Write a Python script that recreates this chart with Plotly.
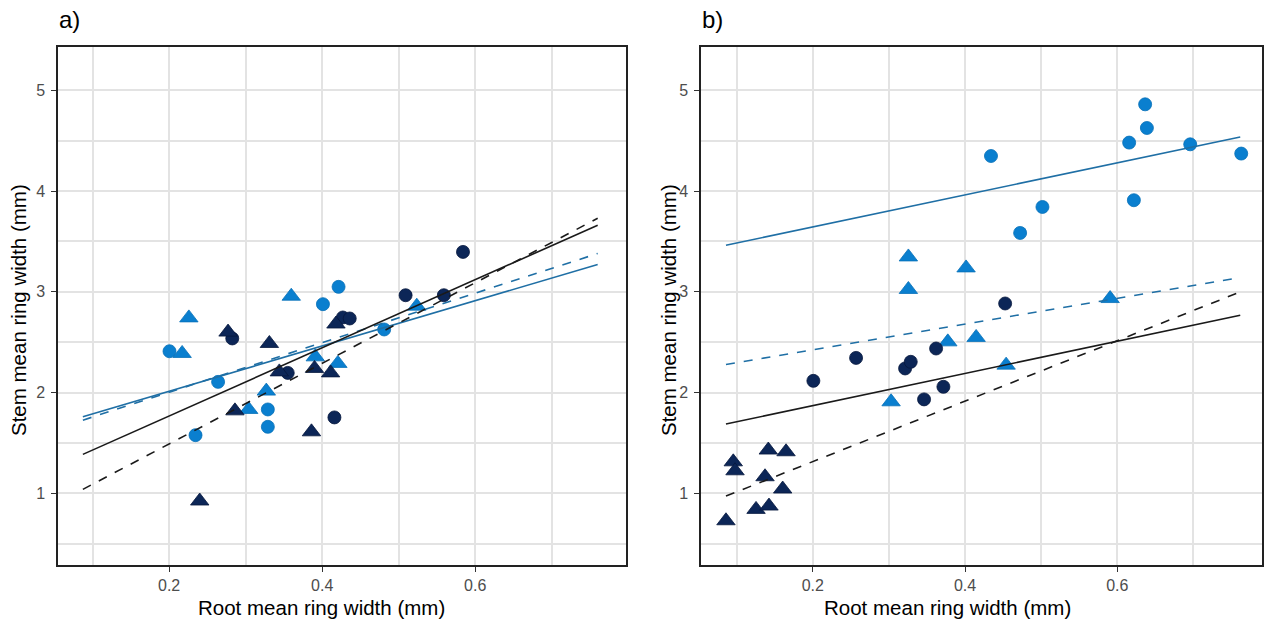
import plotly.graph_objects as go

# ---------------- data: panel a ----------------
a_dark_circle_x = [0.2825, 0.355, 0.427, 0.436, 0.416, 0.509, 0.559, 0.584]
a_dark_circle_y = [2.537, 2.195, 2.745, 2.735, 1.753, 2.966, 2.966, 3.396]
a_dark_tri_x = [0.277, 0.331, 0.390, 0.411, 0.344, 0.418, 0.286, 0.386, 0.240]
a_dark_tri_y = [2.60, 2.487, 2.239, 2.195, 2.205, 2.68, 1.818, 1.61, 0.923]
a_light_circle_x = [0.4214, 0.401, 0.481, 0.2005, 0.264, 0.329, 0.329, 0.2345]
a_light_circle_y = [3.049, 2.877, 2.626, 2.41, 2.106, 1.832, 1.66, 1.577]
a_light_tri_x = [0.3596, 0.2258, 0.217, 0.391, 0.4205, 0.327, 0.304, 0.5236]
a_light_tri_y = [2.956, 2.741, 2.388, 2.354, 2.289, 2.014, 1.832, 2.857]

a_fit_x = [0.0873, 0.760]
a_fit_dark_circle_y = [1.386, 3.661]
a_fit_dark_tri_y = [1.039, 3.73]
a_fit_light_circle_y = [1.759, 3.271]
a_fit_light_tri_y = [1.726, 3.38]

# ---------------- data: panel b ----------------
b_light_circle_x = [0.434, 0.6365, 0.6388, 0.6155, 0.6957, 0.7627, 0.5016, 0.4723, 0.6217]
b_light_circle_y = [4.348, 4.861, 4.626, 4.481, 4.464, 4.372, 3.842, 3.584, 3.909]
b_light_tri_x = [0.3255, 0.4013, 0.3255, 0.5905, 0.4145, 0.3773, 0.4539, 0.3028]
b_light_tri_y = [3.346, 3.237, 3.023, 2.933, 2.547, 2.503, 2.272, 1.908]
b_dark_circle_x = [0.4526, 0.3619, 0.2568, 0.3212, 0.3286, 0.2007, 0.3715, 0.3461]
b_dark_circle_y = [2.884, 2.437, 2.344, 2.239, 2.305, 2.116, 2.057, 1.932]
b_dark_tri_x = [0.0955, 0.0978, 0.1415, 0.1648, 0.1372, 0.1604, 0.1254, 0.1424, 0.0859]
b_dark_tri_y = [1.312, 1.223, 1.429, 1.412, 1.164, 1.042, 0.840, 0.873, 0.727]

b_fit_x = [0.0859, 0.7614]
b_fit_light_circle_y = [3.462, 4.537]
b_fit_light_tri_y = [2.279, 3.142]
b_fit_dark_circle_y = [1.687, 2.768]
b_fit_dark_tri_y = [0.972, 2.999]

x_ticks = [0.2, 0.4, 0.6]
y_ticks = [1, 2, 3, 4, 5]

DARK = "#0c2657"
DARK_EDGE = "#06183d"
LIGHT = "#0a7fcf"
LIGHT_EDGE = "#0670b8"
BLUE_LINE = "#1f6fa5"
BLACK_LINE = "#1a1a1a"
FONT = "Liberation Sans, Arial, sans-serif"

fig = go.Figure()


def pts(x, y, color, edge, symbol, size, xa, ya):
    fig.add_trace(go.Scatter(
        x=x, y=y, mode="markers", xaxis=xa, yaxis=ya, showlegend=False,
        marker=dict(color=color, symbol=symbol, size=size,
                    line=dict(color=edge, width=0.8))))


def fit(x, y, color, dash, xa, ya):
    fig.add_trace(go.Scatter(
        x=x, y=y, mode="lines", xaxis=xa, yaxis=ya, showlegend=False,
        line=dict(color=color, width=1.6, dash=dash)))


# panel a
pts(a_light_circle_x, a_light_circle_y, LIGHT, LIGHT_EDGE, "circle", 13, "x", "y")
pts(a_light_tri_x, a_light_tri_y, LIGHT, LIGHT_EDGE, "triangle-up", 16, "x", "y")
pts(a_dark_circle_x, a_dark_circle_y, DARK, DARK_EDGE, "circle", 13, "x", "y")
pts(a_dark_tri_x, a_dark_tri_y, DARK, DARK_EDGE, "triangle-up", 16, "x", "y")
fit(a_fit_x, a_fit_light_circle_y, BLUE_LINE, "solid", "x", "y")
fit(a_fit_x, a_fit_light_tri_y, BLUE_LINE, "dash", "x", "y")
fit(a_fit_x, a_fit_dark_circle_y, BLACK_LINE, "solid", "x", "y")
fit(a_fit_x, a_fit_dark_tri_y, BLACK_LINE, "dash", "x", "y")

# panel b
pts(b_light_circle_x, b_light_circle_y, LIGHT, LIGHT_EDGE, "circle", 13, "x2", "y2")
pts(b_light_tri_x, b_light_tri_y, LIGHT, LIGHT_EDGE, "triangle-up", 16, "x2", "y2")
pts(b_dark_circle_x, b_dark_circle_y, DARK, DARK_EDGE, "circle", 13, "x2", "y2")
pts(b_dark_tri_x, b_dark_tri_y, DARK, DARK_EDGE, "triangle-up", 16, "x2", "y2")
fit(b_fit_x, b_fit_light_circle_y, BLUE_LINE, "solid", "x2", "y2")
fit(b_fit_x, b_fit_light_tri_y, BLUE_LINE, "dash", "x2", "y2")
fit(b_fit_x, b_fit_dark_circle_y, BLACK_LINE, "solid", "x2", "y2")
fit(b_fit_x, b_fit_dark_tri_y, BLACK_LINE, "dash", "x2", "y2")

W, H = 1264, 628
ydom = [1 - 565 / H, 1 - 47 / H]
GRID = "#e3e3e3"

common_x = dict(
    tickmode="array", tickvals=x_ticks, ticktext=[f"{v:.1f}" for v in x_ticks],
    showgrid=True, gridcolor=GRID, gridwidth=1.6,
    minor=dict(tickmode="array", tickvals=[0.1, 0.3, 0.5, 0.7], showgrid=True,
               gridcolor=GRID, gridwidth=1.6, ticks=""),
    showline=True, linecolor="#222222", linewidth=1.5, mirror=True,
    ticks="outside", ticklen=5, tickcolor="#333333", tickwidth=1.2,
    tickfont=dict(family=FONT, size=16, color="#4d4d4d"),
    zeroline=False,
)
common_y = dict(
    tickmode="array", tickvals=y_ticks, ticktext=[str(v) for v in y_ticks],
    showgrid=True, gridcolor=GRID, gridwidth=1.6,
    minor=dict(tickmode="array", tickvals=[0.5, 1.5, 2.5, 3.5, 4.5], showgrid=True,
               gridcolor=GRID, gridwidth=1.6, ticks=""),
    showline=True, linecolor="#222222", linewidth=1.5, mirror=True,
    ticks="outside", ticklen=5, tickcolor="#333333", tickwidth=1.2,
    tickfont=dict(family=FONT, size=16, color="#4d4d4d"),
    ticklabelstandoff=3,
    zeroline=False, range=[0.288, 5.43],
)

fig.update_layout(
    width=W, height=H, autosize=False,
    margin=dict(l=0, r=0, t=0, b=0),
    paper_bgcolor="white", plot_bgcolor="white",
    font=dict(family=FONT),
    xaxis=dict(common_x, domain=[58 / W, 626 / W], range=[0.0548, 0.797], anchor="y"),
    yaxis=dict(common_y, domain=ydom, anchor="x"),
    xaxis2=dict(common_x, domain=[701 / W, 1262 / W], range=[0.0531, 0.790], anchor="y2"),
    yaxis2=dict(common_y, domain=ydom, anchor="x2"),
)

ann = [
    dict(text="a)", x=57 / W, y=1 - 20 / H, xanchor="left", yanchor="middle",
         font=dict(size=24, color="black")),
    dict(text="b)", x=700 / W, y=1 - 20 / H, xanchor="left", yanchor="middle",
         font=dict(size=24, color="black")),
    dict(text="Root mean ring width (mm)", x=321 / W, y=1 - 607 / H,
         xanchor="center", yanchor="middle", font=dict(size=20.5, color="black")),
    dict(text="Root mean ring width (mm)", x=947 / W, y=1 - 607 / H,
         xanchor="center", yanchor="middle", font=dict(size=20.5, color="black")),
    dict(text="Stem mean ring width (mm)", x=18 / W, y=1 - 310 / H, textangle=-90,
         xanchor="center", yanchor="middle", font=dict(size=20.5, color="black")),
    dict(text="Stem mean ring width (mm)", x=668 / W, y=1 - 310 / H, textangle=-90,
         xanchor="center", yanchor="middle", font=dict(size=20.5, color="black")),
]
for a in ann:
    a.update(xref="paper", yref="paper", showarrow=False)
    a["font"]["family"] = FONT
fig.update_layout(annotations=ann)

fig.write_html("out.html", config={"displayModeBar": False},
               post_script="document.body.style.margin='0px';")
